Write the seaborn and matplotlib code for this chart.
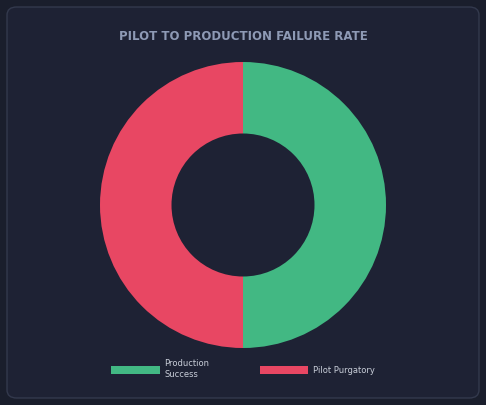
import matplotlib
matplotlib.use("Agg")
import matplotlib.pyplot as plt
import seaborn as sns
from matplotlib.patches import FancyBboxPatch, Patch

# data
labels = ["Production\nSuccess", "Pilot Purgatory"]
values = [50, 50]
colors = ["#42b883", "#e84763"]

sns.set_theme(style="dark")
plt.rcParams['font.family'] = ['DejaVu Sans']

W, H = 486, 405
fig = plt.figure(figsize=(W / 100, H / 100), dpi=100)
fig.patch.set_facecolor("#1a1e2c")

# card background, kept behind the axes
card = FancyBboxPatch((7 / W, 7 / H), 472 / W, 391 / H,
                      boxstyle="round,pad=0,rounding_size=0.02",
                      transform=fig.transFigure, facecolor="#1e2234",
                      edgecolor="#33394d", linewidth=1.0, zorder=-10)
fig.patches.append(card)

fig.text(0.5, 1 - 37 / H, "PILOT TO PRODUCTION FAILURE RATE", ha="center", va="center",
         color="#8e9ab5", fontsize=8.5, fontweight="bold")

cx, cy, r = 243, 205, 143
ax = fig.add_axes([(cx - r) / W, (H - cy - r) / H, 2 * r / W, 2 * r / H], zorder=5)
ax.set_facecolor("none")
ax.pie(values, colors=colors, startangle=90, counterclock=False, radius=1,
       wedgeprops=dict(width=0.5, edgecolor="none"))
ax.set_xlim(-1, 1)
ax.set_ylim(-1, 1)
ax.axis("off")

handles = [Patch(facecolor=c, edgecolor="none") for c in colors]
leg = fig.legend(handles, labels, loc="upper center", bbox_to_anchor=(0.5, 1 - 352 / H),
                 ncol=2, frameon=False, fontsize=6, labelcolor="#c8cdd8",
                 handlelength=5.8, handleheight=1.0, columnspacing=6, handletextpad=0.6)
leg.set_zorder(6)

fig.savefig("out.png", dpi=100, facecolor=fig.get_facecolor())
